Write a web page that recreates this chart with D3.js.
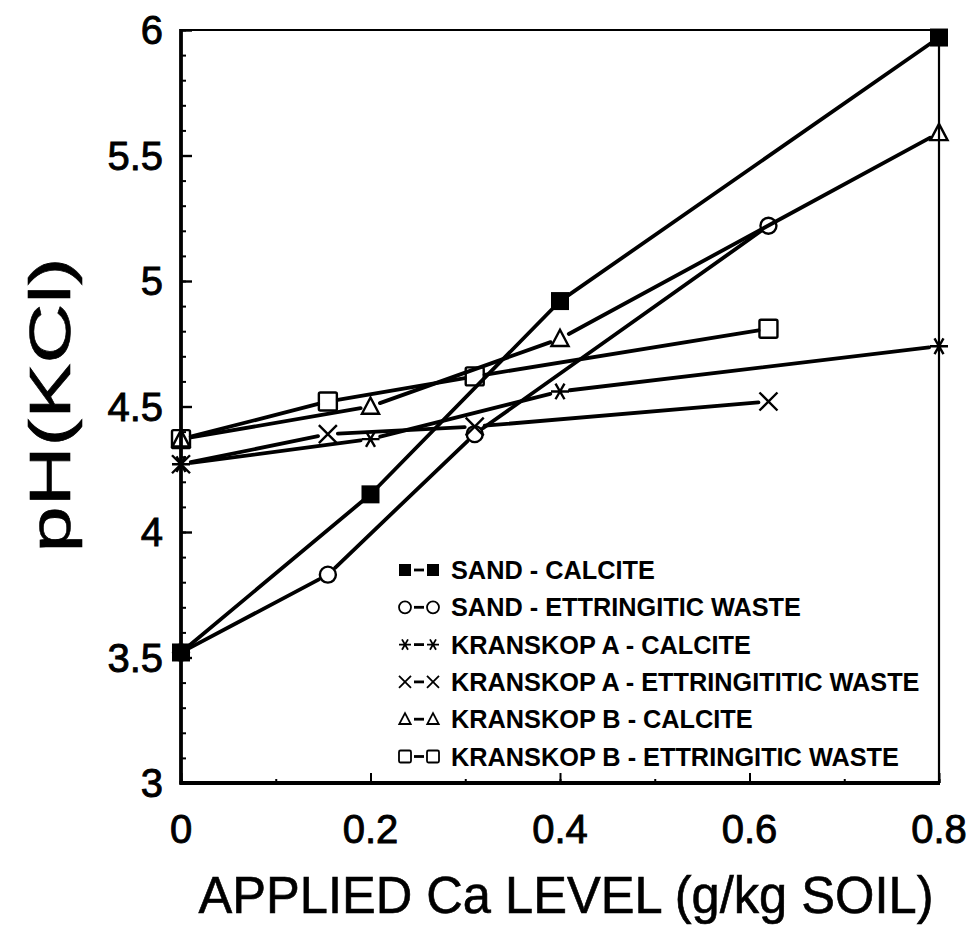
<!DOCTYPE html>
<html><head><meta charset="utf-8">
<script src="https://cdn.jsdelivr.net/npm/d3@7"></script>
<style>body{margin:0;background:#fff}svg{display:block}</style>
</head><body>
<svg id="c" width="968" height="933"></svg>
<script>
// ---- data ----
const xCalcite = [0, 0.2, 0.4, 0.8];
const xEttringitic = [0, 0.155, 0.31, 0.62];
const sandCalcite = [3.52, 4.15, 4.92, 5.97];
const sandEttringitic = [3.52, 3.83, 4.39, 5.22];
const kranskopACalcite = [4.27, 4.37, 4.56, 4.74];
const kranskopAEttringitic = [4.27, 4.39, 4.42, 4.52];
const kranskopBCalcite = [4.37, 4.50, 4.77, 5.59];
const kranskopBEttringitic = [4.37, 4.52, 4.62, 4.81];
const legendLabels = ["SAND - CALCITE", "SAND - ETTRINGITIC WASTE", "KRANSKOP A - CALCITE",
  "KRANSKOP A - ETTRINGITITIC WASTE", "KRANSKOP B - CALCITE", "KRANSKOP B - ETTRINGITIC WASTE"];
const markerTypes = ["fsquare", "circle", "asterisk", "cross", "triangle", "square"];
const xTicks = [0, 0.2, 0.4, 0.6, 0.8];
const yTicks = [3, 3.5, 4, 4.5, 5, 5.5, 6];
const xLabel = "APPLIED Ca LEVEL (g/kg SOIL)";
const yLabel = "pH(KCl)";

const series = [
  {x: xCalcite, y: sandCalcite},
  {x: xEttringitic, y: sandEttringitic},
  {x: xCalcite, y: kranskopACalcite},
  {x: xEttringitic, y: kranskopAEttringitic},
  {x: xCalcite, y: kranskopBCalcite},
  {x: xEttringitic, y: kranskopBEttringitic}
].map((s, i) => ({pts: s.x.map((v, j) => [v, s.y[j]]), type: markerTypes[i], label: legendLabels[i]}));

const svg = d3.select("#c");
const L = 181, R = 939, T = 30, B = 783;
const x = d3.scaleLinear().domain([0, 0.8]).range([L, R]);
const y = d3.scaleLinear().domain([3, 6]).range([B, T]);

// ---- lines with small gaps at markers ----
const gap = 10;
const lineG = svg.append("g");
series.forEach(s => {
  for (let i = 0; i < s.pts.length - 1; i++) {
    const x1 = x(s.pts[i][0]), y1 = y(s.pts[i][1]);
    const x2 = x(s.pts[i+1][0]), y2 = y(s.pts[i+1][1]);
    const dx = x2 - x1, dy = y2 - y1, len = Math.hypot(dx, dy);
    const ux = dx / len, uy = dy / len;
    const g1 = (i === 0 && s.pts[0][1] < 4) ? 3 : gap;
    lineG.append("line")
      .attr("x1", x1 + ux * g1).attr("y1", y1 + uy * g1)
      .attr("x2", x2 - ux * gap).attr("y2", y2 - uy * gap)
      .attr("stroke", "#000").attr("stroke-width", 3.8).attr("stroke-linecap", "round");
  }
});

// ---- markers ----
function drawMarker(g, type, cx, cy, s, sw) {
  const h = s / 2;
  if (type === "fsquare") {
    g.append("rect").attr("x", cx - h).attr("y", cy - h).attr("width", s).attr("height", s).attr("fill", "#000");
  } else if (type === "square") {
    g.append("rect").attr("x", cx - h).attr("y", cy - h).attr("width", s).attr("height", s).attr("rx", 1.5)
      .attr("fill", "none").attr("stroke", "#000").attr("stroke-width", sw);
  } else if (type === "circle") {
    g.append("circle").attr("cx", cx).attr("cy", cy).attr("r", h).attr("fill", "none").attr("stroke", "#000").attr("stroke-width", sw);
  } else if (type === "triangle") {
    g.append("path").attr("d", `M${cx},${cy - h}L${cx + h * 0.95},${cy + h * 0.8}L${cx - h * 0.95},${cy + h * 0.8}Z`)
      .attr("fill", "none").attr("stroke", "#000").attr("stroke-width", sw).attr("stroke-linejoin", "miter");
  } else if (type === "cross") {
    g.append("path").attr("d", `M${cx - h},${cy - h}L${cx + h},${cy + h}M${cx - h},${cy + h}L${cx + h},${cy - h}`)
      .attr("stroke", "#000").attr("stroke-width", sw);
  } else if (type === "asterisk") {
    let d = "";
    [0, 60, 120].forEach(a => {
      const r = a * Math.PI / 180;
      d += `M${cx - h * Math.cos(r)},${cy - h * Math.sin(r)}L${cx + h * Math.cos(r)},${cy + h * Math.sin(r)}`;
    });
    g.append("path").attr("d", d).attr("stroke", "#000").attr("stroke-width", sw);
  }
}
const mG = svg.append("g");
series.forEach(s => s.pts.forEach(p => drawMarker(mG, s.type, x(p[0]), y(p[1]), s.type === "circle" ? 16 : 18, 2.4)));

// ---- frame ----
svg.append("line").attr("x1", L).attr("y1", T).attr("x2", R).attr("y2", T).attr("stroke", "#000").attr("stroke-width", 2.2);
svg.append("line").attr("x1", R).attr("y1", T).attr("x2", R).attr("y2", B).attr("stroke", "#000").attr("stroke-width", 2.2);

// ---- axes (inward ticks) ----
const yMinor = d3.range(30, 61).map(v => v / 10);
svg.append("g").attr("transform", `translate(${L},0)`)
  .call(d3.axisRight(y).tickValues(yMinor).tickSize(5).tickFormat(""))
  .call(g => g.selectAll("line").attr("stroke-width", 2))
  .call(g => g.select(".domain").remove());
svg.append("g").attr("transform", `translate(${L},0)`)
  .call(d3.axisRight(y).tickValues(yTicks).tickSize(11).tickFormat(""))
  .call(g => g.selectAll("line").attr("stroke-width", 2.4))
  .call(g => g.select(".domain").remove());
const xMinor = d3.range(0, 9).map(v => v / 10);
svg.append("g").attr("transform", `translate(0,${B})`)
  .call(d3.axisTop(x).tickValues(xMinor).tickSize(4).tickFormat(""))
  .call(g => g.selectAll("line").attr("stroke-width", 2))
  .call(g => g.select(".domain").remove());
svg.append("g").attr("transform", `translate(0,${B})`)
  .call(d3.axisTop(x).tickValues(xTicks).tickSize(10).tickFormat(""))
  .call(g => g.selectAll("line").attr("stroke-width", 2))
  .call(g => g.select(".domain").remove());
svg.append("line").attr("x1", L).attr("y1", T - 1).attr("x2", L).attr("y2", B + 1.5).attr("stroke", "#000").attr("stroke-width", 3.8);
svg.append("line").attr("x1", L - 1.5).attr("y1", B).attr("x2", R + 1).attr("y2", B).attr("stroke", "#000").attr("stroke-width", 3.8);

// tick labels
const font = "'Liberation Sans', Arial, Helvetica, sans-serif";
svg.append("g").selectAll("text").data(yTicks).join("text")
  .attr("x", 163).attr("y", d => y(d)).attr("dy", "0.35em").attr("text-anchor", "end")
  .attr("font-family", font).attr("font-size", 40).attr("stroke", "#000").attr("stroke-width", 0.9)
  .text(d => d3.format("")(d));
svg.append("g").selectAll("text").data(xTicks).join("text")
  .attr("x", d => x(d)).attr("y", 843).attr("text-anchor", "middle")
  .attr("font-family", font).attr("font-size", 40).attr("stroke", "#000").attr("stroke-width", 0.9)
  .text(d => d3.format("")(d));

// axis titles
svg.append("text").attr("x", 566).attr("y", 913).attr("text-anchor", "middle")
  .attr("font-family", font).attr("font-size", 51).attr("stroke", "#000").attr("stroke-width", 0.6)
  .attr("textLength", 735).attr("lengthAdjust", "spacingAndGlyphs")
  .text(xLabel);
svg.append("text").attr("transform", "translate(70,405) rotate(-90)").attr("text-anchor", "middle")
  .attr("font-family", font).attr("font-size", 58).attr("stroke", "#000").attr("stroke-width", 0.6)
  .attr("textLength", 295).attr("lengthAdjust", "spacingAndGlyphs")
  .text(yLabel);

// ---- legend ----
const lg = svg.append("g");
series.forEach((s, i) => {
  const cy = 570 + i * 37.3;
  drawMarker(lg, s.type, 405, cy, 12, 1.8);
  lg.append("line").attr("x1", 414).attr("x2", 424).attr("y1", cy).attr("y2", cy).attr("stroke", "#000").attr("stroke-width", 2.8);
  drawMarker(lg, s.type, 433, cy, 12, 1.8);
  lg.append("text").attr("x", 451).attr("y", cy).attr("dy", "0.36em")
    .attr("font-family", font).attr("font-weight", "bold").attr("font-size", 25.3)
    .text(s.label);
});
</script>
</body></html>
